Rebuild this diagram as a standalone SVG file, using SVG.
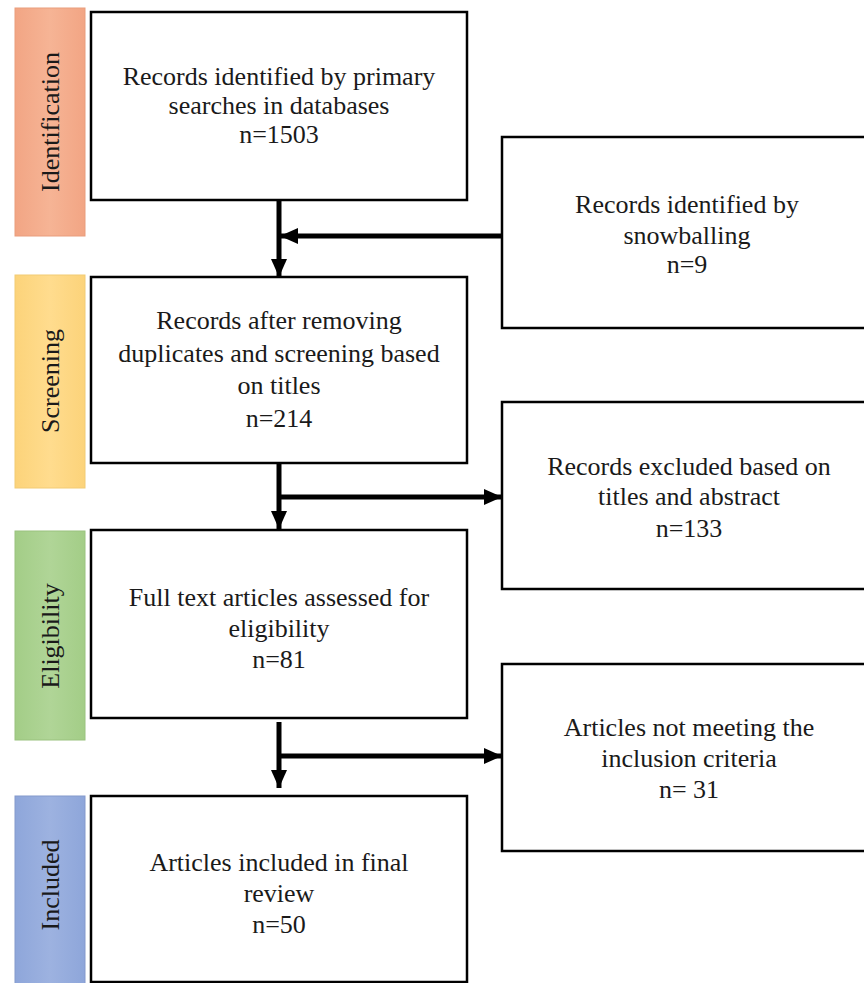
<svg xmlns="http://www.w3.org/2000/svg" width="864" height="983" viewBox="0 0 864 983">
<defs>
<style>
.box{fill:#fff;stroke:#000;stroke-width:2.5}
.t{font-family:"Liberation Serif","Times New Roman",serif;font-size:26px;fill:#1a1a1a;text-anchor:middle}
.side{font-family:"Liberation Serif","Times New Roman",serif;font-size:26px;fill:#1a1a1a;text-anchor:middle}
.conn{stroke:#000;stroke-width:5;fill:none}
</style>
<linearGradient id="gId" x1="0" y1="0" x2="1" y2="0"><stop offset="0" stop-color="#F2A584"/><stop offset="0.5" stop-color="#F6B495"/><stop offset="1" stop-color="#F2A584"/></linearGradient>
<linearGradient id="gSc" x1="0" y1="0" x2="1" y2="0"><stop offset="0" stop-color="#FCD37A"/><stop offset="0.5" stop-color="#FFDC8E"/><stop offset="1" stop-color="#FCD37A"/></linearGradient>
<linearGradient id="gEl" x1="0" y1="0" x2="1" y2="0"><stop offset="0" stop-color="#A3CD87"/><stop offset="0.5" stop-color="#B0D597"/><stop offset="1" stop-color="#A3CD87"/></linearGradient>
<linearGradient id="gIn" x1="0" y1="0" x2="1" y2="0"><stop offset="0" stop-color="#8EA6DA"/><stop offset="0.5" stop-color="#9DB2E0"/><stop offset="1" stop-color="#8EA6DA"/></linearGradient>
<marker id="ah" markerUnits="userSpaceOnUse" markerWidth="18" markerHeight="16" refX="18" refY="8" orient="auto"><path d="M0,0 L18,8 L0,16 Z" fill="#000"/></marker>
</defs>
<g id="phase-identification">
<rect x="15" y="8" width="70" height="228" fill="url(#gId)" stroke="#E99D7C" stroke-width="1"/>
<text class="side" transform="translate(59,122) rotate(-90)">Identification</text>
</g>
<g id="phase-screening">
<rect x="15" y="275" width="70" height="213" fill="url(#gSc)" stroke="#F2CB74" stroke-width="1"/>
<text class="side" transform="translate(59,381) rotate(-90)">Screening</text>
</g>
<g id="phase-eligibility">
<rect x="15" y="531" width="70" height="209" fill="url(#gEl)" stroke="#9AC27F" stroke-width="1"/>
<text class="side" transform="translate(59,636) rotate(-90)">Eligibility</text>
</g>
<g id="phase-included">
<rect x="15" y="796" width="70" height="190" fill="url(#gIn)" stroke="#8499CC" stroke-width="1"/>
<text class="side" transform="translate(59,885) rotate(-90)">Included</text>
</g>
<g id="box-primary">
<rect class="box" x="91" y="12" width="376" height="188"/>
<text class="t" x="279" y="85">Records identified by primary</text>
<text class="t" x="279" y="114">searches in databases</text>
<text class="t" x="279" y="143">n=1503</text>
</g>
<g id="box-snowball">
<rect class="box" x="502" y="137" width="370" height="191"/>
<text class="t" x="687" y="213">Records identified by</text>
<text class="t" x="687" y="244">snowballing</text>
<text class="t" x="687" y="273">n=9</text>
</g>
<g id="box-screened">
<rect class="box" x="91" y="277" width="376" height="186"/>
<text class="t" x="279" y="329">Records after removing</text>
<text class="t" x="279" y="362">duplicates and screening based</text>
<text class="t" x="279" y="394">on titles</text>
<text class="t" x="279" y="427">n=214</text>
</g>
<g id="box-excluded">
<rect class="box" x="502" y="402" width="370" height="187"/>
<text class="t" x="689" y="475">Records excluded based on</text>
<text class="t" x="689" y="505">titles and abstract</text>
<text class="t" x="689" y="537">n=133</text>
</g>
<g id="box-fulltext">
<rect class="box" x="91" y="530" width="376" height="188"/>
<text class="t" x="279" y="606">Full text articles assessed for</text>
<text class="t" x="279" y="637">eligibility</text>
<text class="t" x="279" y="668">n=81</text>
</g>
<g id="box-notmeeting">
<rect class="box" x="502" y="664" width="370" height="187"/>
<text class="t" x="689" y="736">Articles not meeting the</text>
<text class="t" x="689" y="767">inclusion criteria</text>
<text class="t" x="689" y="798">n= 31</text>
</g>
<g id="box-included">
<rect class="box" x="91" y="796" width="376" height="186"/>
<text class="t" x="279" y="871">Articles included in final</text>
<text class="t" x="279" y="902">review</text>
<text class="t" x="279" y="933">n=50</text>
</g>
<g id="connectors">
<line class="conn" x1="279" y1="200" x2="279" y2="277" marker-end="url(#ah)"/>
<line class="conn" x1="502" y1="236" x2="280" y2="236" marker-end="url(#ah)"/>
<line class="conn" x1="279" y1="462" x2="279" y2="529" marker-end="url(#ah)"/>
<line class="conn" x1="277" y1="497" x2="502" y2="497" marker-end="url(#ah)"/>
<line class="conn" x1="279" y1="722" x2="279" y2="788" marker-end="url(#ah)"/>
<line class="conn" x1="277" y1="756" x2="502" y2="756" marker-end="url(#ah)"/>
</g>
</svg>
